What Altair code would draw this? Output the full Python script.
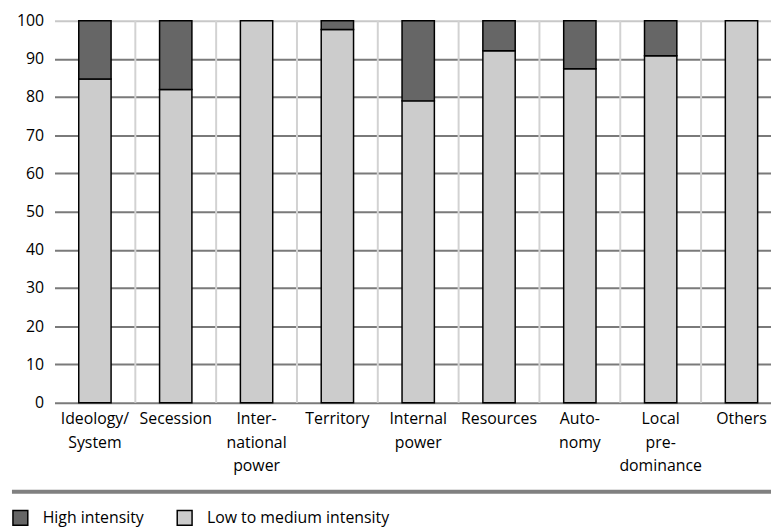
import altair as alt
import pandas as pd

categories = ["Ideology/\nSystem", "Secession", "Inter-\nnational\npower", "Territory",
              "Internal\npower", "Resources", "Auto-\nnomy", "Local\npre-\ndominance", "Others"]
high = [15.3, 18.0, 0.0, 2.3, 21.0, 7.9, 12.6, 9.2, 0.0]
low = [84.7, 82.0, 100.0, 97.7, 79.0, 92.1, 87.4, 90.8, 100.0]
series = ["High intensity", "Low to medium intensity"]
y_ticks = [0, 10, 20, 30, 40, 50, 60, 70, 80, 90, 100]

rows = []
for c, h, l in zip(categories, high, low):
    rows.append({"cat": c, "series": series[1], "value": l, "ord": 0})
    if h > 0:
        rows.append({"cat": c, "series": series[0], "value": h, "ord": 1})
df = pd.DataFrame(rows)
grid_df = pd.DataFrame({"cat": categories[:-1]})

FONT = "Open Sans"
W, H = 724, 386

xscale = alt.Scale(domain=categories, paddingInner=0.6, paddingOuter=0.2325, align=0.645)
xaxis = alt.Axis(labelAngle=0, labelExpr="split(datum.label, '\\n')",
                 labelLineHeight=24, labelFontSize=16, labelFont=FONT,
                 labelColor="black", labelPadding=8, ticks=False, domain=False,
                 grid=False, labelBaseline="top", labelLimit=200)

vgrid = alt.Chart(grid_df).mark_rule(color="#d2d2d2", strokeWidth=2, xOffset=40.83).encode(
    x=alt.X("cat:N", scale=xscale, sort=categories, title=None, axis=xaxis),
    y=alt.value(0),
    y2=alt.value(H),
)

bars = alt.Chart(df).mark_bar(stroke="black", strokeWidth=1.5).encode(
    x=alt.X("cat:N", scale=xscale, sort=categories, title=None, axis=xaxis),
    y=alt.Y("value:Q", stack="zero", title=None,
            scale=alt.Scale(domain=[0, 100], nice=False),
            axis=alt.Axis(values=y_ticks, labelFontSize=16, labelFont=FONT, labelColor="black",
                          labelPadding=11, ticks=False, domain=False, grid=True,
                          gridColor={"condition": {"test": "datum.value == 100", "value": "#c8c8c8"},
                                     "value": "#7a7a7a"},
                          gridWidth=2)),
    color=alt.Color("series:N", scale=alt.Scale(domain=series, range=["#666666", "#cccccc"]),
                    title=None,
                    legend=alt.Legend(orient="none", legendX=-43, legendY=494, direction="horizontal",
                                      symbolType="square", symbolSize=225, symbolStrokeColor="black",
                                      symbolStrokeWidth=1.5, labelFontSize=16, labelFont=FONT,
                                      labelColor="black", labelOffset=14, columnPadding=30,
                                      labelLimit=400)),
    order=alt.Order("ord:Q"),
)

sep = alt.Chart(pd.DataFrame({"a": [0]})).mark_rule(color="#808080", strokeWidth=4).encode(
    x=alt.value(-43), x2=alt.value(W), y=alt.value(476)
)

chart = alt.layer(vgrid, bars, sep).properties(
    width=W, height=H,
    autosize=alt.AutoSizeParams(type="none"),
    padding={"left": 47, "top": 10, "right": 0, "bottom": 135},
).configure_view(stroke=None)

chart.save("out.html", embed_options={"renderer": "svg", "actions": False})
